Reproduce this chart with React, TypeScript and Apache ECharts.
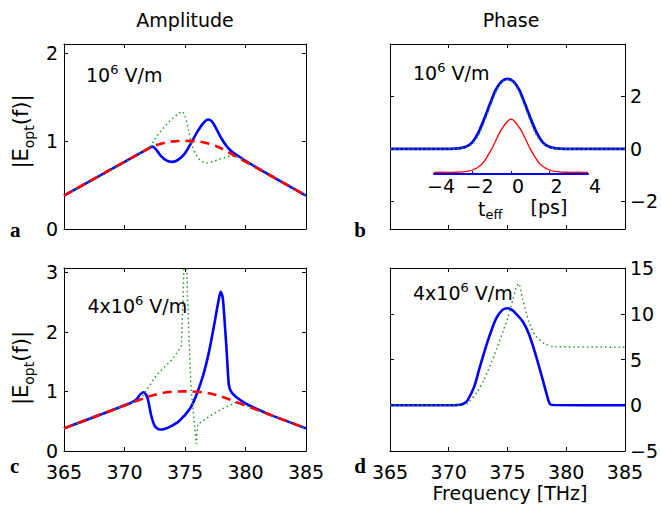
import React, { useEffect, useRef } from "react";
import * as echarts from "echarts";

// ---------- axes / ticks ----------
const freqTicks = [365, 370, 375, 380, 385];
const freqInnerTicks = [370, 375, 380];
const ampATicks = [0, 1, 2];
const phaseBTicks = [-2, 0, 2];
const ampCTicks = [0, 1, 2, 3];
const phaseDTicks = [-5, 0, 5, 10, 15];
const insetTicks = [-4, -2, 0, 2, 4];
const insetInnerTicks = [-2, 0, 2];

// ---------- panel a (amplitude, 1e6 V/m) ----------
const aFreqRef = [365, 372, 372.5, 373, 373.5, 374, 374.5, 375, 375.5, 376, 376.5, 377, 377.5, 378, 385];
const aAmpRef = [0.38, 0.915, 0.945, 0.968, 0.985, 0.995, 0.999, 1.0, 0.999, 0.995, 0.985, 0.968, 0.945, 0.915, 0.38];
const aFreqBlue = [365, 372, 372.3, 372.6, 373, 373.5, 373.9, 374.3, 374.7, 375, 375.5, 376, 376.5, 376.9, 377.2, 377.5, 378, 378.5, 379, 379.5, 380, 381, 385];
const aAmpBlue = [0.38, 0.915, 0.935, 0.905, 0.83, 0.775, 0.762, 0.775, 0.815, 0.86, 0.975, 1.1, 1.2, 1.243, 1.225, 1.16, 1.03, 0.93, 0.865, 0.82, 0.775, 0.69, 0.38];
const aFreqGreen = [365, 372, 372.5, 373, 373.5, 374, 374.5, 374.75, 375, 375.3, 375.6, 375.9, 376.3, 376.8, 377.3, 377.8, 378.3, 378.8, 379.2, 385];
const aAmpGreen = [0.38, 0.915, 1.02, 1.11, 1.19, 1.26, 1.31, 1.335, 1.28, 1.12, 0.94, 0.85, 0.775, 0.75, 0.765, 0.79, 0.81, 0.83, 0.824, 0.38];

// ---------- panel b (phase, 1e6 V/m) ----------
const bFreq = [365, 370, 370.5, 371, 371.5, 372, 372.5, 373, 373.5, 374, 374.5, 375, 375.5, 376, 376.5, 377, 377.5, 378, 378.5, 379, 379.5, 380, 385];
const bPhaseBlue = [0, 0, 0.01, 0.03, 0.09, 0.25, 0.6, 1.12, 1.7, 2.25, 2.57, 2.67, 2.57, 2.25, 1.7, 1.12, 0.6, 0.25, 0.09, 0.03, 0.01, 0, 0];
const bPhaseGreen = [0, 0, 0.01, 0.02, 0.07, 0.2, 0.5, 1.0, 1.58, 2.15, 2.52, 2.65, 2.52, 2.15, 1.58, 1.0, 0.5, 0.2, 0.07, 0.02, 0.01, 0, 0];

// ---------- inset (pulse vs t_eff) ----------
const insetTime = [-4, -3.5, -3, -2.5, -2, -1.5, -1, -0.5, 0, 0.5, 1, 1.5, 2, 2.5, 3, 3.5, 4];
const insetPulse = [0, 0, 0.002, 0.01, 0.045, 0.16, 0.44, 0.8, 1.0, 0.8, 0.44, 0.16, 0.045, 0.01, 0.002, 0, 0];

// ---------- panel c (amplitude, 4e6 V/m) ----------
const cFreqRef = aFreqRef;
const cAmpRef = aAmpRef;
const cFreqBlue = [365, 370.5, 371, 371.3, 371.6, 371.9, 372.2, 372.5, 372.9, 373.3, 373.7, 374.5, 375.4, 375.9, 376.5, 377, 377.45, 377.75, 377.95, 378.12, 378.3, 378.45, 378.62, 378.8, 379.2, 380, 381, 382, 385];
const cAmpBlue = [0.38, 0.805, 0.87, 0.95, 0.985, 0.89, 0.6, 0.42, 0.36, 0.37, 0.4, 0.5, 0.71, 0.92, 1.27, 1.68, 2.16, 2.5, 2.67, 2.57, 2.1, 1.65, 1.12, 1.0, 0.91, 0.8, 0.7, 0.61, 0.38];
const cFreqGreen = [365, 371.3, 372.64, 374.0, 374.7, 374.85, 374.95, 375.1, 375.2, 375.5, 375.94, 376.05, 376.3, 377.3, 378.3, 379.3, 379.6, 385];
const cAmpGreen = [0.38, 0.865, 1.27, 1.55, 1.76, 2.6, 3.6, 3.6, 2.6, 1.05, 0.12, 0.45, 0.48, 0.62, 0.73, 0.82, 0.795, 0.38];

// ---------- panel d (phase, 4e6 V/m) ----------
const dFreqBlue = [365, 370.5, 371, 371.3, 371.6, 372.15, 372.56, 372.97, 373.52, 374.07, 374.6, 375, 375.4, 375.8, 376.3, 376.83, 377.38, 377.94, 378.48, 378.65, 379, 385];
const dPhaseBlue = [0, 0, 0.05, 0.2, 0.54, 1.98, 3.79, 5.6, 7.77, 9.57, 10.45, 10.6, 10.4, 9.9, 9.15, 7.77, 5.6, 3.07, 0.54, 0.08, 0.02, 0];
const dFreqGreen = [365, 371.2, 371.6, 372.42, 372.97, 373.52, 374.07, 374.63, 375.04, 375.31, 375.73, 375.95, 376.28, 376.83, 377.38, 378.2, 379.0, 385];
const dPhaseGreen = [0, 0, 0.2, 1.44, 2.71, 4.33, 6.14, 8.13, 9.57, 10.83, 12.8, 13.3, 11.6, 9.1, 7.6, 6.7, 6.4, 6.35];

// ---------- texts ----------
const colTitles = ["Amplitude", "Phase"];
const fieldLabels = ["10", "4x10"];
const panelLetters = ["a", "b", "c", "d"];
const yName = ["|E", "opt", "(f)|"];
const xName = "Frequency [THz]";

const FONT = '"DejaVu Sans", sans-serif';
const SERIF = '"Liberation Serif", "DejaVu Serif", serif';
const BLUE = "#0000ff";
const RED = "#ff0000";
const GREEN = "#2a962a";

const pair = (xs: number[], ys: number[]) => xs.map((x, i) => [x, ys[i]]);
const fmt = (v: number) => String(v).replace("-", "\u2212");

const black = { color: "#000", width: 1 };

const labelStyle = {
  color: "#000",
  fontSize: 19,
  fontFamily: FONT,
  lineHeight: 14,
  formatter: fmt,
  showMinLabel: true,
  showMaxLabel: true,
  hideOverlap: false,
};

function xAxes(grid: number, showLabels: boolean) {
  const base = {
    type: "value",
    gridIndex: grid,
    min: 365,
    max: 385,
    splitLine: { show: false },
    axisLine: { show: true, onZero: false, lineStyle: black },
    axisTick: { show: true, inside: true, length: 4, customValues: freqInnerTicks, lineStyle: black },
  };
  return [
    {
      ...base,
      position: "bottom",
      axisLabel: { ...labelStyle, show: showLabels, customValues: freqTicks, margin: 14 },
    },
    { ...base, position: "top", axisLabel: { show: false } },
  ];
}

function yAxes(grid: number, min: number, max: number, ticks: number[], side: "left" | "right") {
  const base = {
    type: "value",
    gridIndex: grid,
    min,
    max,
    splitLine: { show: false },
    axisLine: { show: true, onZero: false, lineStyle: black },
    axisTick: { show: true, inside: true, length: 4, customValues: ticks, lineStyle: black },
  };
  const lab = { ...labelStyle, show: true, customValues: ticks, margin: side === "left" ? 6 : 5 };
  return [
    { ...base, position: "left", axisLabel: side === "left" ? lab : { show: false } },
    { ...base, position: "right", axisLabel: side === "right" ? lab : { show: false } },
  ];
}

function line(data: number[][], axis: number, color: string, width: number, type: any, smooth: number | boolean, z: number) {
  return {
    type: "line",
    xAxisIndex: axis,
    yAxisIndex: axis,
    data,
    showSymbol: false,
    symbol: "none",
    smooth,
    clip: true,
    silent: true,
    z,
    lineStyle: { color, width, type },
  };
}

const rich = {
  n: { fontSize: 19, fontFamily: FONT, fill: "#000", lineHeight: 24, verticalAlign: "middle" },
  sup: { fontSize: 13, fontFamily: FONT, fill: "#000", lineHeight: 24, verticalAlign: "top" },
  sub: { fontSize: 13, fontFamily: FONT, fill: "#000", lineHeight: 24, verticalAlign: "bottom" },
  nb: { fontSize: 21, fontFamily: FONT, fill: "#000", lineHeight: 30, verticalAlign: "middle" },
  subb: { fontSize: 14, fontFamily: FONT, fill: "#000", lineHeight: 30, verticalAlign: "bottom" },
};

function txt(x: number, y: number, text: string, align = "center", extra: any = {}) {
  return {
    type: "text",
    x,
    y,
    silent: true,
    ...extra,
    style: { text, fontSize: 19, fontFamily: FONT, fill: "#000", align, verticalAlign: "middle", rich },
  };
}

function letter(x: number, y: number, t: string) {
  return {
    type: "text",
    x,
    y,
    silent: true,
    style: { text: t, fontSize: 21, fontWeight: "bold", fontFamily: SERIF, fill: "#000", align: "center", verticalAlign: "middle" },
  };
}

export default function App() {
  const ref = useRef<HTMLDivElement>(null);
  useEffect(() => {
    if (!ref.current) return;
    const chart = echarts.init(ref.current, undefined, { renderer: "svg" });
    const yn = `{nb|${yName[0]}}{subb|${yName[1]}}{nb|${yName[2]}}`;
    const option: any = {
      animation: false,
      backgroundColor: "#fff",
      grid: [
        { left: 64, top: 44, width: 242, height: 185, containLabel: false },
        { left: 390, top: 44, width: 242, height: 185, containLabel: false },
        { left: 64, top: 268, width: 242, height: 183, containLabel: false },
        { left: 390, top: 268, width: 242, height: 183, containLabel: false },
        { left: 434, top: 119, width: 154, height: 55, containLabel: false },
        // label-only copy of the inset time axis (labels sit a little right of their ticks in the original)
        { left: 441, top: 119, width: 154, height: 55, containLabel: false },
      ],
      xAxis: [
        ...xAxes(0, false),
        ...xAxes(1, false),
        ...xAxes(2, true),
        ...xAxes(3, true),
        {
          type: "value",
          gridIndex: 4,
          min: -4,
          max: 4,
          position: "bottom",
          splitLine: { show: false },
          axisLine: { show: true, onZero: false, lineStyle: { color: BLUE, width: 2 } },
          axisTick: { show: true, inside: true, length: 3, customValues: insetInnerTicks, lineStyle: { color: BLUE, width: 1 } },
          axisLabel: { show: false },
        },
        {
          type: "value",
          gridIndex: 5,
          min: -4,
          max: 4,
          position: "bottom",
          splitLine: { show: false },
          axisLine: { show: false, onZero: false },
          axisTick: { show: false },
          axisLabel: { ...labelStyle, show: true, customValues: insetTicks, margin: 5 },
        },
      ],
      yAxis: [
        ...yAxes(0, 0, 2.1, ampATicks, "left"),
        ...yAxes(1, -3.05, 4, phaseBTicks, "right"),
        ...yAxes(2, 0, 3.07, ampCTicks, "left"),
        ...yAxes(3, -5, 15, phaseDTicks, "right"),
        { type: "value", gridIndex: 4, min: -0.03, max: 1, show: false },
        { type: "value", gridIndex: 5, min: -0.03, max: 1, show: false },
      ],
      series: [
        // a
        line(pair(aFreqBlue, aAmpBlue), 0, BLUE, 2.6, "solid", 0.3, 3),
        line(pair(aFreqGreen, aAmpGreen), 0, GREEN, 1.5, [1.5, 3], 0.3, 4),
        line(pair(aFreqRef, aAmpRef), 0, RED, 2.6, [9, 6], 0.3, 5),
        // b
        line(pair(bFreq, bPhaseBlue), 2, BLUE, 2.8, "solid", 0.3, 3),
        line(pair(bFreq, bPhaseGreen), 2, GREEN, 1.5, [1.5, 3], 0.3, 4),
        // inset
        line(pair(insetTime, insetPulse), 8, RED, 1.3, "solid", 0.3, 6),
        // c
        line(pair(cFreqBlue, cAmpBlue), 4, BLUE, 2.6, "solid", 0.25, 3),
        line(pair(cFreqGreen, cAmpGreen), 4, GREEN, 1.5, [1.5, 3], false, 4),
        line(pair(cFreqRef, cAmpRef), 4, RED, 2.6, [9, 6], 0.3, 5),
        // d
        line(pair(dFreqBlue, dPhaseBlue), 6, BLUE, 2.6, "solid", 0.3, 3),
        line(pair(dFreqGreen, dPhaseGreen), 6, GREEN, 1.5, [1.5, 3], 0.25, 4),
      ],
      graphic: [
        txt(185, 20, colTitles[0]),
        txt(511, 20, colTitles[1]),
        txt(86, 74.7, `{n|${fieldLabels[0]}}{sup|6}{n| V/m}`, "left"),
        txt(413, 72.5, `{n|${fieldLabels[0]}}{sup|6}{n| V/m}`, "left"),
        txt(87.5, 305.8, `{n|${fieldLabels[1]}}{sup|6}{n| V/m}`, "left"),
        txt(413, 293.3, `{n|${fieldLabels[1]}}{sup|6}{n| V/m}`, "left"),
        txt(21, 131.5, yn, "center", { rotation: Math.PI / 2 }),
        txt(21, 368, yn, "center", { rotation: Math.PI / 2 }),
        txt(510, 493, xName),
        txt(478, 209, "{n|t}{sub|eff}", "left"),
        txt(549, 207, "[ps]"),
        letter(15.3, 229.6, panelLetters[0]),
        letter(360, 229.6, panelLetters[1]),
        letter(14.7, 466, panelLetters[2]),
        letter(360, 466, panelLetters[3]),
      ],
    };
    chart.setOption(option);
    return () => chart.dispose();
  }, []);
  return (
    <div
      ref={ref}
      style={{ position: "fixed", left: 0, top: 0, width: 661, height: 510, background: "#fff" }}
    />
  );
}
